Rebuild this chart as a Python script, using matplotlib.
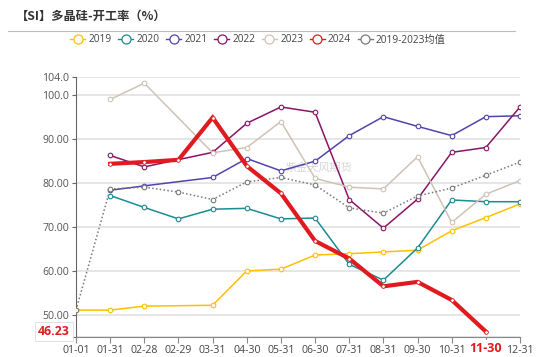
import matplotlib
matplotlib.use('Agg')
import matplotlib.pyplot as plt
from matplotlib.lines import Line2D
import matplotlib.transforms as mtransforms

plt.rcParams['font.family'] = ['Open Sans', 'Noto Sans CJK SC', 'DejaVu Sans']

dates = ['01-01', '01-31', '02-28', '02-29', '03-31', '04-30', '05-31',
         '06-30', '07-31', '08-31', '09-30', '10-31', '11-30', '12-31']

# None = no point, line goes straight through (connected nulls)
y2019 = [51.1, 51.1, 52.0, None, 52.2, 60.0, 60.4, 63.6, 63.9, 64.3, 64.7, 69.1, 72.1, 75.2]
y2020 = [None, 77.1, 74.4, 71.8, 74.0, 74.2, 71.8, 72.0, 61.5, 57.9, 65.2, 76.1, 75.7, 75.7]
y2021 = [None, 78.3, 79.3, None, 81.2, 85.5, 82.7, 84.9, 90.7, 95.0, 92.8, 90.7, 95.0, 95.2]
y2022 = [None, 86.2, 83.6, None, 86.9, 93.5, 97.2, 96.0, 76.2, 69.7, 76.3, 86.9, 88.0, 97.2]
y2023 = [None, 98.9, 102.6, None, 86.8, 88.0, 93.9, 81.0, 79.0, 78.6, 85.9, 71.0, 77.4, 80.5]
y2024 = [None, 84.3, 84.7, 85.2, 94.8, 83.8, 77.6, 66.8, 62.8, 56.5, 57.5, 53.4, 46.23, None]
yavg = [51.1, 78.6, 79.0, 77.9, 76.2, 80.2, 81.2, 79.5, 74.3, 73.1, 77.0, 78.8, 81.7, 84.7]

names = ['2019', '2020', '2021', '2022', '2023', '2024', '2019-2023均值']
colors = ['#FFC000', '#1A8C93', '#5145AA', '#8A1468', '#CFC3B6', '#E01B1F', '#7A7A7A']
series = [y2019, y2020, y2021, y2022, y2023, y2024, yavg]

yticks = [45, 50, 60, 70, 80, 90, 100, 104]
ytick_labels = ['45.00', '50.00', '60.00', '70.00', '80.00', '90.00', '100.0', '104.0']

fig = plt.figure(figsize=(5.5, 3.57), dpi=100)
ax = fig.add_axes([76 / 550, 1 - 337 / 357, 444 / 550, 260 / 357])

handles = []
for name, col, ys in zip(names, colors, series):
    xs = [i for i, v in enumerate(ys) if v is not None]
    vs = [v for v in ys if v is not None]
    if name == '2024':
        ax.plot(xs, vs, color=col, lw=3.0, marker='o', ms=2.6, mfc='white',
                mec=col, mew=0.6, zorder=5, solid_joinstyle='miter')
    elif name == '2019-2023均值':
        ax.plot(xs, vs, color=col, lw=1.1, ls=(0, (1, 1.5)), marker='o', ms=3.3,
                mfc='white', mec=col, mew=0.8, zorder=3)
    else:
        ax.plot(xs, vs, color=col, lw=1.1, marker='o', ms=3.3, mfc='white',
                mec=col, mew=0.8, zorder=3)
    handles.append(Line2D([0], [0], color=col, lw=1.0, marker='o', ms=6.5,
                          mfc='white', mec=col, mew=0.9))

ax.set_xlim(0, len(dates) - 1)
ax.set_ylim(45, 104)
ax.set_xticks(range(len(dates)))
ax.set_xticklabels(dates)
ax.set_yticks(yticks)
ax.set_yticklabels(ytick_labels)
ax.grid(axis='y', color='#e2e2e2', lw=1.2)
ax.set_axisbelow(True)
for s in ['top', 'right']:
    ax.spines[s].set_visible(False)
ax.spines['left'].set_color('#666666')
ax.spines['bottom'].set_color('#888888')
ax.tick_params(axis='x', colors='#888888', labelcolor='#444444', labelsize=7.6,
               length=4, pad=2)
ax.tick_params(axis='y', colors='#666666', labelcolor='#555555', labelsize=7.6,
               length=3, pad=2)

# axis pointer labels
trans_y = mtransforms.blended_transform_factory(ax.transAxes, ax.transData)
ax.text(-0.014, 46.23, '46.23', transform=trans_y, ha='right', va='center',
        fontsize=8.8, fontweight='bold', color='#E01B1F', zorder=10, clip_on=False,
        bbox=dict(boxstyle='square,pad=0.25', fc='white', ec='#dddddd', lw=0.6))
trans_x = mtransforms.blended_transform_factory(ax.transData, ax.transAxes)
ax.text(12, -0.043, '11-30', transform=trans_x, ha='center', va='center',
        fontsize=9, fontweight='bold', color='#E01B1F', zorder=10, clip_on=False,
        bbox=dict(boxstyle='square,pad=0.1', fc='white', ec='none'))

# watermark
ax.text(7.1, 83.5, '紫金天风期货', fontsize=8, color='#bbbbbb', alpha=0.6,
        ha='center', va='center', family=['Noto Sans CJK SC'], zorder=1)

# title and separator
fig.text(16 / 550, 1 - 16 / 357, '【SI】多晶硅-开工率（%）', fontsize=8.8,
         fontweight='bold', color='#333333', ha='left', va='center',
         family=['Noto Sans CJK SC'])
fig.add_artist(Line2D([8 / 550, 515 / 550], [1 - 31 / 357, 1 - 31 / 357],
                      color='#bbbbbb', lw=0.8))

fig.legend(handles, names, loc='center', bbox_to_anchor=(258 / 550, 1 - 40 / 357),
           ncol=7, frameon=False, handlelength=1.5,
           handletextpad=0.3, columnspacing=0.65, labelcolor='#444444',
           prop={'family': ['Open Sans', 'Noto Sans CJK SC'], 'size': 7.3})

fig.savefig('out.png', dpi=100)
